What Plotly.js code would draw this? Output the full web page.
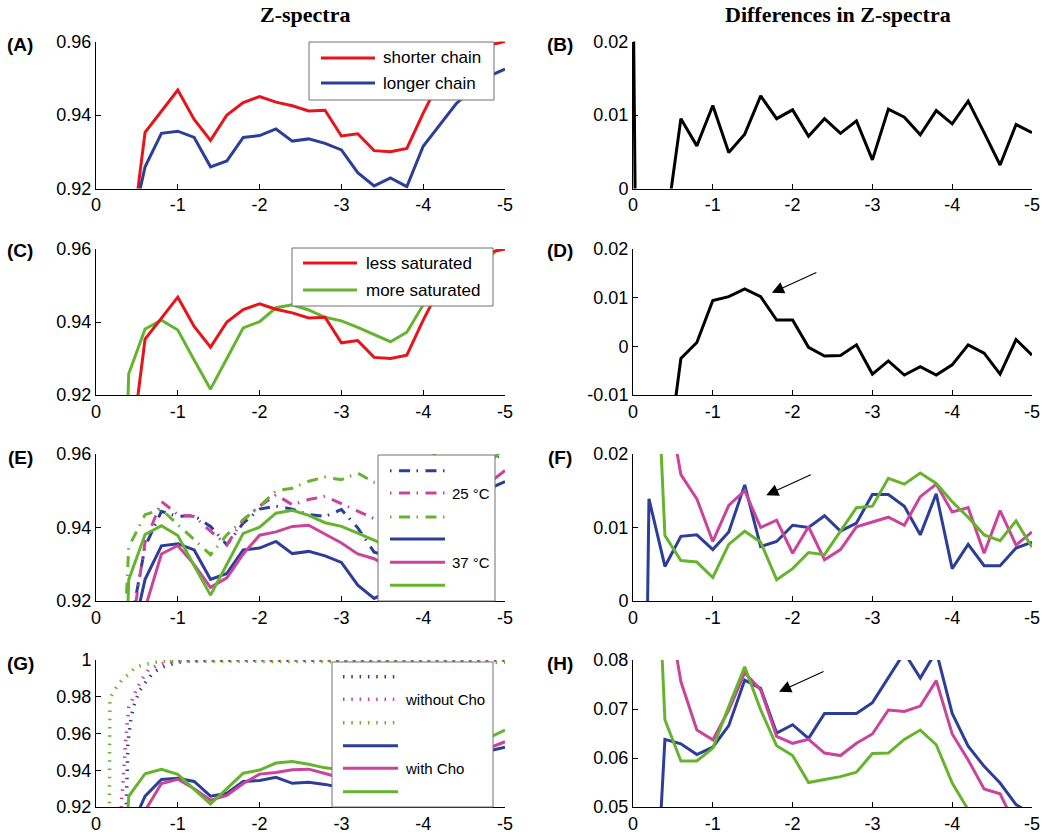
<!DOCTYPE html>
<html><head><meta charset="utf-8">
<script src="https://cdn.plot.ly/plotly-3.0.1.min.js"></script>
<style>html,body{margin:0;padding:0;background:#fff}#chart{width:1050px;height:836px}</style>
</head><body><div id="chart"></div>
<script>
// ---------- data (offset frequency in ppm) ----------
const ppm = [0,-0.2,-0.4,-0.6,-0.8,-1.0,-1.2,-1.4,-1.6,-1.8,-2.0,-2.2,-2.4,-2.6,-2.8,-3.0,-3.2,-3.4,-3.6,-3.8,-4.0,-4.2,-4.4,-4.6,-4.8,-5.0];

// (A) chain length
const shorterChain = [0.23,0.55,0.900,0.9353,0.9411,0.9468,0.9388,0.9331,0.9400,0.9434,0.9450,0.9435,0.9425,0.9411,0.9413,0.9343,0.9349,0.9303,0.9300,0.9309,0.9405,0.9492,0.9510,0.9505,0.9590,0.9600];
const longerChain  = [0.20,0.75,0.906,0.9259,0.9350,0.9356,0.9339,0.9259,0.9275,0.9339,0.9344,0.9362,0.9329,0.9335,0.9323,0.9305,0.9243,0.9207,0.9229,0.9205,0.9315,0.9373,0.9430,0.9470,0.9505,0.9525];
// (B)
const diffChain = [0.030,-0.200,-0.0063,0.0095,0.0058,0.0113,0.0049,0.0074,0.0126,0.0095,0.0107,0.0071,0.0095,0.0075,0.0092,0.0039,0.0108,0.0097,0.0073,0.0106,0.0088,0.0119,0.0076,0.0032,0.0087,0.0076];
// (C) saturation
const lessSaturated = [0.23,0.55,0.900,0.9353,0.9411,0.9468,0.9388,0.9331,0.9400,0.9434,0.9450,0.9435,0.9425,0.9411,0.9413,0.9343,0.9349,0.9303,0.9300,0.9309,0.9405,0.9492,0.9510,0.9505,0.9590,0.9600];
const moreSaturated = [0.30,0.78,0.9258,0.9381,0.9405,0.9378,0.9296,0.9216,0.9300,0.9384,0.9401,0.9439,0.9447,0.9433,0.9413,0.9403,0.9385,0.9366,0.9346,0.9372,0.9447,0.9489,0.9524,0.9562,0.9576,0.9618];
// (D)
const diffSaturation = [-0.07,-0.23,-0.0275,-0.0025,0.0008,0.0094,0.0102,0.0118,0.0102,0.0054,0.0054,-0.0002,-0.0020,-0.0019,0.0003,-0.0057,-0.0030,-0.0059,-0.0042,-0.0059,-0.0038,0.0003,-0.0014,-0.0057,0.0014,-0.0018];
// (E) temperature: 25 °C (dash-dot) and 37 °C (solid)
const blue25    = [0.05,0.764,0.9107,0.9348,0.9444,0.9430,0.9432,0.9403,0.9353,0.9412,0.9450,0.9458,0.9450,0.9435,0.9430,0.9449,0.9399,0.9333,0.9319,0.9351,0.9359,0.9450,0.9478,0.9518,0.9577,0.9605];
const magenta25 = [0.16,0.65,0.907,0.936,0.9471,0.9435,0.9430,0.9390,0.9353,0.9421,0.9458,0.9489,0.9462,0.9476,0.9485,0.9464,0.9444,0.9424,0.9431,0.9396,0.9467,0.9526,0.9545,0.9605,0.9620,0.9649];
const green25   = [0.35,0.837,0.9347,0.9435,0.9449,0.9408,0.9367,0.9326,0.9380,0.9421,0.9458,0.9500,0.9507,0.9526,0.9537,0.9530,0.9548,0.9523,0.9520,0.9532,0.9582,0.9603,0.9614,0.9644,0.9685,0.9691];
const blue37    = [0.20,0.75,0.906,0.9259,0.9350,0.9356,0.9339,0.9259,0.9275,0.9339,0.9344,0.9362,0.9329,0.9335,0.9323,0.9305,0.9243,0.9207,0.9229,0.9205,0.9315,0.9373,0.9430,0.9470,0.9505,0.9525];
const magenta37 = [0.10,0.60,0.878,0.918,0.9328,0.9351,0.9299,0.9237,0.9263,0.9328,0.9379,0.9388,0.9403,0.9406,0.9382,0.9358,0.9328,0.9315,0.9289,0.9237,0.9346,0.9399,0.9460,0.9468,0.9520,0.9555];
const green37   = [0.30,0.78,0.9258,0.9381,0.9405,0.9378,0.9296,0.9216,0.9300,0.9384,0.9401,0.9439,0.9447,0.9433,0.9413,0.9403,0.9385,0.9366,0.9346,0.9372,0.9447,0.9489,0.9524,0.9562,0.9576,0.9618];
// (F)
const diffTempBlue    = [-0.15,0.0139,0.0047,0.0088,0.0090,0.0070,0.0094,0.0158,0.0074,0.0081,0.0103,0.0100,0.0116,0.0095,0.0106,0.0145,0.0145,0.0129,0.0090,0.0146,0.0044,0.0077,0.0048,0.0048,0.0072,0.0080];
const diffTempMagenta = [0.06,0.05,0.0294,0.0172,0.0139,0.0081,0.0130,0.0150,0.0100,0.0110,0.0065,0.0101,0.0056,0.0070,0.0101,0.0108,0.0114,0.0103,0.0142,0.0159,0.0121,0.0127,0.0065,0.0123,0.0076,0.0094];
const diffTempGreen   = [0.05,0.057,0.0089,0.0055,0.0053,0.0032,0.0077,0.0095,0.0080,0.0029,0.0044,0.0066,0.0063,0.0095,0.0127,0.0129,0.0167,0.0159,0.0174,0.0160,0.0135,0.0114,0.0090,0.0082,0.0109,0.0073];
// (G) without Cho (dotted, finer sampling)
const blueNoChoPpm    = [0,-0.1,-0.2,-0.3,-0.37,-0.39,-0.43,-0.47,-0.53,-0.61,-0.69,-0.8,-0.94,-1.1,-1.4,-1.8,-2.2,-2.6,-3.0,-3.4,-3.8,-4.2,-4.6,-5.0];
const blueNoCho       = [0.05,0.3,0.754,0.88,0.92,0.955,0.969,0.976,0.983,0.988,0.9927,0.996,0.998,0.9995,0.9998,1.0,0.9999,1.0,0.9999,1.0,0.9999,1.0,0.9999,1.0];
const magentaNoChoPpm = [0,-0.1,-0.2,-0.28,-0.31,-0.33,-0.36,-0.4,-0.46,-0.51,-0.57,-0.64,-0.76,-0.87,-1.0,-1.2,-1.6,-2.0,-2.4,-2.8,-3.2,-3.6,-4.0,-4.5,-5.0];
const magentaNoCho    = [0.03,0.2,0.6,0.85,0.922,0.933,0.955,0.974,0.981,0.9855,0.990,0.9946,0.9973,0.9987,0.9995,0.9999,1.0,0.9999,1.0,0.9999,1.0,0.9999,1.0,0.9999,1.0];
const greenNoChoPpm   = [0,-0.1,-0.15,-0.17,-0.23,-0.31,-0.4,-0.48,-0.59,-0.7,-0.79,-1.0,-1.5,-2.0,-2.5,-3.0,-3.5,-4.0,-4.5,-5.0];
const greenNoCho      = [0.1,0.45,0.8,0.979,0.984,0.9887,0.9923,0.996,0.9975,0.9987,0.9993,0.9994,0.9993,0.9994,0.9992,0.9993,0.9991,0.999,0.999,0.9988];
// (H)
const diffChoBlue    = [0.0,0.004,0.0638,0.0629,0.0607,0.0622,0.0666,0.0759,0.0742,0.0651,0.0668,0.0640,0.0691,0.0691,0.0691,0.0713,0.0766,0.0815,0.0763,0.0818,0.0691,0.0624,0.0583,0.0549,0.0505,0.0485];
const diffChoMagenta = [0.2,0.15,0.0947,0.0756,0.0657,0.0637,0.0698,0.0774,0.0739,0.0644,0.0630,0.0638,0.0610,0.0605,0.0630,0.0649,0.0698,0.0695,0.0706,0.0758,0.0649,0.0596,0.0537,0.0527,0.0460,0.0440];
const diffChoGreen   = [0.2,0.14,0.0678,0.0594,0.0594,0.0620,0.0705,0.0786,0.0698,0.0625,0.0605,0.0550,0.0556,0.0562,0.0571,0.0609,0.0610,0.0638,0.0657,0.0627,0.0549,0.0493,0.0440,0.0400,0.0380,0.0370];

// ticks
const xTickVals = [0,-1,-2,-3,-4,-5];
const xTickText = ['0','-1','-2','-3','-4','-5'];
const yTicksZ   = [0.92,0.94,0.96];
const yTicksZText = ['0.92','0.94','0.96'];
const yTicksB   = [0,0.01,0.02];
const yTicksBText = ['0','0.01','0.02'];
const yTicksD   = [-0.01,0,0.01,0.02];
const yTicksDText = ['-0.01','0','0.01','0.02'];
const yTicksG   = [0.92,0.94,0.96,0.98,1];
const yTicksGText = ['0.92','0.94','0.96','0.98','1'];
const yTicksH   = [0.05,0.06,0.07,0.08];
const yTicksHText = ['0.05','0.06','0.07','0.08'];

const panelLetters = ['(A)','(B)','(C)','(D)','(E)','(F)','(G)','(H)'];
const columnTitles = ['Z-spectra','Differences in Z-spectra'];

// ---------- style ----------
const RED='#e8141c', BLUE='#2d3e98', MAG='#c9449a', GRN='#66b32e', BLK='#000000';
const DASHDOT='1.5px,7.5px,11px,6.5px';
const DOTTED='1.5px,6.8px';
const W=1050, H=836;
const P = x => x/W, Q = y => 1 - y/H;

const traces = [];
function add(ax, x, y, color, dash, name, width){
  traces.push({type:'scatter', mode:'lines', x:x, y:y, name:name||'', showlegend:false,
    xaxis:'x'+(ax===1?'':ax), yaxis:'y'+(ax===1?'':ax),
    line:{color:color, width:width||3, dash:dash||'solid'}, hoverinfo:'skip'});
}
add(1, ppm, shorterChain, RED, null, 'shorter chain');
add(1, ppm, longerChain, BLUE, null, 'longer chain');
add(2, ppm, diffChain, BLK);
add(3, ppm, moreSaturated, GRN, null, 'more saturated');
add(3, ppm, lessSaturated, RED, null, 'less saturated');
add(4, ppm, diffSaturation, BLK);
add(5, ppm, blue25, BLUE, DASHDOT, '25 °C');
add(5, ppm, magenta25, MAG, DASHDOT, '25 °C');
add(5, ppm, green25, GRN, DASHDOT, '25 °C');
add(5, ppm, blue37, BLUE, null, '37 °C');
add(5, ppm, magenta37, MAG, null, '37 °C');
add(5, ppm, green37, GRN, null, '37 °C');
add(6, ppm, diffTempBlue, BLUE);
add(6, ppm, diffTempMagenta, MAG);
add(6, ppm, diffTempGreen, GRN);
add(7, blueNoChoPpm, blueNoCho, BLUE, DOTTED, 'without Cho', 3.5);
add(7, magentaNoChoPpm, magentaNoCho, MAG, DOTTED, 'without Cho', 3.5);
add(7, greenNoChoPpm, greenNoCho, GRN, DOTTED, 'without Cho', 3.5);
add(7, ppm, blue37, BLUE, null, 'with Cho');
add(7, ppm, magenta37, MAG, null, 'with Cho');
add(7, ppm, green37, GRN, null, 'with Cho');
add(8, ppm, diffChoBlue, BLUE);
add(8, ppm, diffChoMagenta, MAG);
add(8, ppm, diffChoGreen, GRN);

const tickFont = {family:'Liberation Sans, Arial, sans-serif', size:18, color:'#000'};
function xAx(dom, anchor){
  return {domain:dom, anchor:anchor, range:[0,-5], tickmode:'array', tickvals:xTickVals, ticktext:xTickText,
    showgrid:false, zeroline:false, showline:true, linecolor:'#000', linewidth:1,
    ticks:'inside', ticklen:5, tickcolor:'#000', tickfont:tickFont, fixedrange:true};
}
function yAx(dom, anchor, rng, tv, tt){
  return {domain:dom, anchor:anchor, range:rng, tickmode:'array', tickvals:tv, ticktext:tt,
    showgrid:false, zeroline:false, showline:true, linecolor:'#000', linewidth:1,
    ticks:'inside', ticklen:5, tickcolor:'#000', tickfont:tickFont, fixedrange:true};
}
const L=[P(96),P(505)], R=[P(633),P(1032)];
const rows=[[Q(188.5),Q(41.5)],[Q(395),Q(249)],[Q(601),Q(454)],[Q(807),Q(660)]];

const layout = {
  width:W, height:H, margin:{l:0,r:0,t:0,b:0}, paper_bgcolor:'#fff', plot_bgcolor:'#fff',
  showlegend:false,
  xaxis:xAx(L,'y'),   yaxis:yAx(rows[0],'x',[0.92,0.96],yTicksZ,yTicksZText),
  xaxis2:xAx(R,'y2'), yaxis2:yAx(rows[0],'x2',[0,0.02],yTicksB,yTicksBText),
  xaxis3:xAx(L,'y3'), yaxis3:yAx(rows[1],'x3',[0.92,0.96],yTicksZ,yTicksZText),
  xaxis4:xAx(R,'y4'), yaxis4:yAx(rows[1],'x4',[-0.01,0.02],yTicksD,yTicksDText),
  xaxis5:xAx(L,'y5'), yaxis5:yAx(rows[2],'x5',[0.92,0.96],yTicksZ,yTicksZText),
  xaxis6:xAx(R,'y6'), yaxis6:yAx(rows[2],'x6',[0,0.02],yTicksB,yTicksBText),
  xaxis7:xAx(L,'y7'), yaxis7:yAx(rows[3],'x7',[0.92,1],yTicksG,yTicksGText),
  xaxis8:xAx(R,'y8'), yaxis8:yAx(rows[3],'x8',[0.05,0.08],yTicksH,yTicksHText),
  shapes:[], annotations:[]
};

// titles & panel letters
const titleFont = {family:'Liberation Serif, Times New Roman, serif', size:22, color:'#000'};
layout.annotations.push({xref:'paper',yref:'paper',x:P(305),y:Q(15),text:'<b>'+columnTitles[0]+'</b>',showarrow:false,font:titleFont,xanchor:'center',yanchor:'middle'});
layout.annotations.push({xref:'paper',yref:'paper',x:P(838),y:Q(15),text:'<b>'+columnTitles[1]+'</b>',showarrow:false,font:titleFont,xanchor:'center',yanchor:'middle'});
const letterY=[45,250,457,663];
panelLetters.forEach((t,i)=>{
  const col=i%2, row=Math.floor(i/2);
  layout.annotations.push({xref:'paper',yref:'paper',x:P(col?560:20),y:Q(letterY[row]),text:'<b>'+t+'</b>',showarrow:false,
    font:{family:'Liberation Sans, Arial, sans-serif',size:19,color:'#000'},xanchor:'center',yanchor:'middle'});
});

// legends (drawn as boxes)
function box(x0,x1,y0,y1){
  layout.shapes.push({type:'rect',xref:'paper',yref:'paper',x0:P(x0),x1:P(x1),y0:Q(y1),y1:Q(y0),
    fillcolor:'#fff',line:{color:'#707070',width:1},layer:'above'});
}
function sample(x0,x1,y,color,dash,width){
  layout.shapes.push({type:'line',xref:'paper',yref:'paper',x0:P(x0),x1:P(x1),y0:Q(y),y1:Q(y),
    line:{color:color,width:width||3,dash:dash||'solid'},layer:'above'});
}
function label(x,y,t,size){
  layout.annotations.push({xref:'paper',yref:'paper',x:P(x),y:Q(y),text:t,showarrow:false,xanchor:'left',yanchor:'middle',
    font:{family:'Liberation Sans, Arial, sans-serif',size:size,color:'#000'}});
}
// A
box(309,494,42,100); sample(321,375,58,RED); sample(321,375,83,BLUE);
label(381,58,'shorter chain',17); label(381,83,'longer chain',17);
// C
box(292,493,248,306); sample(303,357,263,RED); sample(303,357,290,GRN);
label(364,263,'less saturated',17); label(364,290,'more saturated',17);
// E
box(378,495,455,601);
const eY=[470.7,493,517,539,562.3,585.3];
sample(390,445,eY[0],BLUE,DASHDOT); sample(390,445,eY[1],MAG,DASHDOT); sample(390,445,eY[2],GRN,DASHDOT);
sample(390,445,eY[3],BLUE); sample(390,445,eY[4],MAG); sample(390,445,eY[5],GRN);
label(450,eY[1],'25 °C',15); label(450,eY[4],'37 °C',15);
// G
box(332,493,662,807);
const gY=[676.7,699.3,722.7,745.7,768.3,791.7];
sample(343,398,gY[0],BLUE,DOTTED,3.5); sample(343,398,gY[1],MAG,DOTTED,3.5); sample(343,398,gY[2],GRN,DOTTED,3.5);
sample(343,398,gY[3],BLUE); sample(343,398,gY[4],MAG); sample(343,398,gY[5],GRN);
label(403,gY[1],'without Cho',15); label(403,gY[4],'with Cho',15);

// arrows in D, F, H
function arrow(ax,x,y){
  layout.annotations.push({xref:'x'+ax,yref:'y'+ax,x:x,y:y,ax:46,ay:-21,text:'',showarrow:true,
    arrowhead:2,arrowsize:2.2,arrowwidth:1.1,arrowcolor:'#000'});
}
arrow(4,-1.74,0.011);
arrow(6,-1.67,0.0144);
arrow(8,-1.83,0.0735);

Plotly.newPlot('chart', traces, layout, {staticPlot:true, displayModeBar:false});
</script>
</body></html>
